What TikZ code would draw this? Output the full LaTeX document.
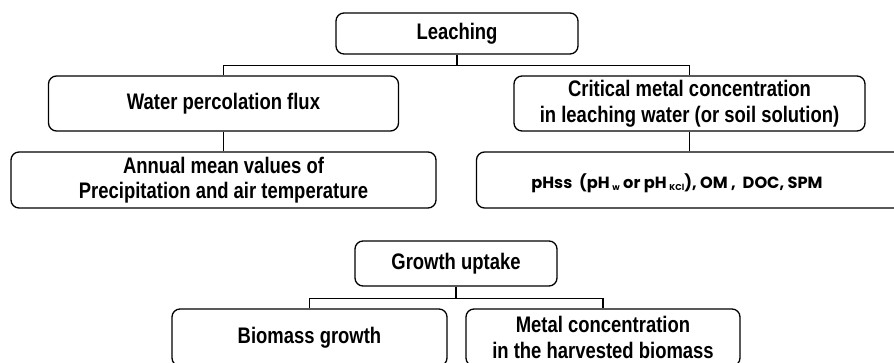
\documentclass[tikz,border=0pt]{standalone}
\usepackage{fontspec}
\setmainfont{Liberation Sans}[FakeStretch=0.82]
\newfontfamily\gothic{Poppins}
\begin{document}
\begin{tikzpicture}[x=1pt,y=1pt,
  every node/.style={font=\fontsize{22.5}{25.5}\selectfont\bfseries},
  box/.style={draw=black, line width=1.3pt, rounded corners=8pt,
    align=center, inner sep=0pt},
  link/.style={draw=black, line width=1.3pt}]
\clip (0,0) rectangle (894,363);
\fill[white] (0,0) rectangle (894,363);

% Leaching branch
\node[box, minimum width=242pt, minimum height=41pt] (leach) at (457,329.5) {Leaching};
\node[box, minimum width=350pt, minimum height=55pt] (water) at (223.5,259.5) {Water percolation flux};
\node[box, minimum width=351pt, minimum height=55pt] (crit) at (689.5,259.5)
  {Critical metal concentration\\in leaching water (or soil solution)};
\node[box, minimum width=425pt, minimum height=56pt] (annual) at (223.5,183)
  {Annual mean values of\\Precipitation and air temperature};
\node[box, minimum width=426pt, minimum height=56pt] (ph) at (689.5,183) {};
\node[font=\gothic\fontsize{16.2}{18}\selectfont\bfseries] (phtext) at (677,180)
  {pHss\ \ (pH\,\raisebox{-2.5pt}{\fontsize{8.5}{8.5}\selectfont w} or pH\,\raisebox{-2.5pt}{\fontsize{8.5}{8.5}\selectfont KCl}), OM ,\ \ DOC, SPM};

\draw[link] (leach.south) -- ++(0,-11) coordinate (j1);
\draw[link] (water.north) |- (j1) -| (crit.north);
\draw[link] (water.south) -- (annual.north);
\draw[link] (crit.south) -- (crit.south |- ph.north);

% Growth uptake branch
\node[box, minimum width=202pt, minimum height=45pt] (growth) at (456,99.5) {Growth uptake};
\node[box, minimum width=275pt, minimum height=57pt] (bio) at (309.5,25.5) {Biomass growth};
\node[box, minimum width=274pt, minimum height=57pt] (metal) at (603,25.5)
  {Metal concentration\\in the harvested biomass};

\draw[link] (growth.south) -- ++(0,-12) coordinate (j2);
\draw[link] (bio.north) |- (j2) -| (metal.north);
\end{tikzpicture}
\end{document}
